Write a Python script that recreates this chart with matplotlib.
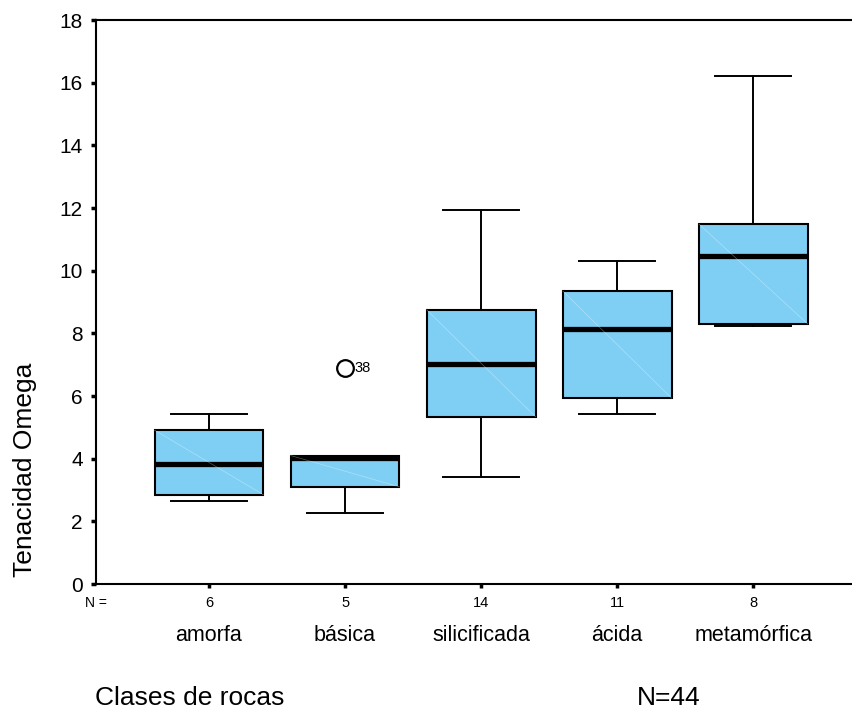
import matplotlib
matplotlib.use("Agg")
import matplotlib.pyplot as plt

plt.rcParams['font.family'] = ['Liberation Sans', 'DejaVu Sans']

# Box statistics
categories = ["amorfa", "básica", "silicificada", "ácida", "metamórfica"]
counts = [6, 5, 14, 11, 8]
whis_low = [2.65, 2.28, 3.41, 5.42, 8.23]
q1 = [2.85, 3.10, 5.34, 5.93, 8.30]
medians = [3.82, 4.02, 7.02, 8.13, 10.47]
q3 = [4.91, 4.10, 8.75, 9.35, 11.49]
whis_high = [5.42, 4.10, 11.94, 10.31, 16.21]
fliers = [[], [6.90], [], [], []]
flier_ids = [[], ["38"], [], [], []]
total_n = 44

box_color = "#7FCFF5"
positions = list(range(1, len(categories) + 1))

fig = plt.figure(figsize=(8.53, 7.11), dpi=100)
ax = fig.add_axes([96 / 853, 127 / 711, 1 - 96 / 853, 564 / 711])

stats = []
for i in range(len(categories)):
    stats.append({
        "whislo": whis_low[i], "q1": q1[i], "med": medians[i],
        "q3": q3[i], "whishi": whis_high[i], "fliers": fliers[i],
    })

ax.bxp(stats, positions=positions, widths=0.8, patch_artist=True,
       showfliers=True, capwidths=0.56,
       boxprops=dict(facecolor=box_color, edgecolor="black", linewidth=1.5),
       medianprops=dict(color="black", linewidth=3.8, solid_capstyle="butt"),
       whiskerprops=dict(color="black", linewidth=1.4),
       capprops=dict(color="black", linewidth=1.4),
       flierprops=dict(marker="o", markersize=12, markerfacecolor="white",
                       markeredgecolor="black", markeredgewidth=1.6))

# faint diagonal sheen across each box (as in the original render)
for i, p in enumerate(positions):
    ax.plot([p - 0.4, p + 0.4], [q3[i], q1[i]], color="white",
            linewidth=0.5, alpha=0.35, zorder=2.5)

# outlier case labels
for i, p in enumerate(positions):
    for v, lab in zip(fliers[i], flier_ids[i]):
        ax.annotate(lab, xy=(p, v), xytext=(6.5, 0), textcoords="offset points",
                    ha="left", va="center", fontsize=10.5)

ax.set_xlim(0.17, 5.733)
ax.set_ylim(0, 18)
ax.set_yticks(range(0, 19, 2))
ax.tick_params(axis="y", labelsize=15, length=3.5, width=2.5, pad=6)
ax.set_xticks(positions)
ax.set_xticklabels([])
ax.tick_params(axis="x", length=3, width=2.5)

for side in ["left", "bottom", "top"]:
    ax.spines[side].set_linewidth(1.5)
ax.spines["right"].set_visible(False)

# N counts and category names under the axis
ax.annotate("N =", xy=(0, 0), xycoords="axes fraction", xytext=(0, -14),
            textcoords="offset points", ha="center", va="center", fontsize=10)
for i, p in enumerate(positions):
    ax.annotate(str(counts[i]), xy=(p, 0), xycoords=("data", "axes fraction"),
                xytext=(0, -14), textcoords="offset points",
                ha="center", va="center", fontsize=10.5)
    ax.annotate(categories[i], xy=(p, 0), xycoords=("data", "axes fraction"),
                xytext=(0, -37), textcoords="offset points",
                ha="center", va="center", fontsize=15.5)

fig.text(25 / 853, 1 - 470 / 711, "Tenacidad Omega", rotation=90,
         ha="center", va="center", fontsize=19)
fig.text(95 / 853, 1 - 698 / 711, "Clases de rocas", ha="left",
         va="center", fontsize=19)
fig.text(637 / 853, 1 - 698 / 711, f"N={total_n}", ha="left",
         va="center", fontsize=19)

fig.savefig("out.png", dpi=100)
